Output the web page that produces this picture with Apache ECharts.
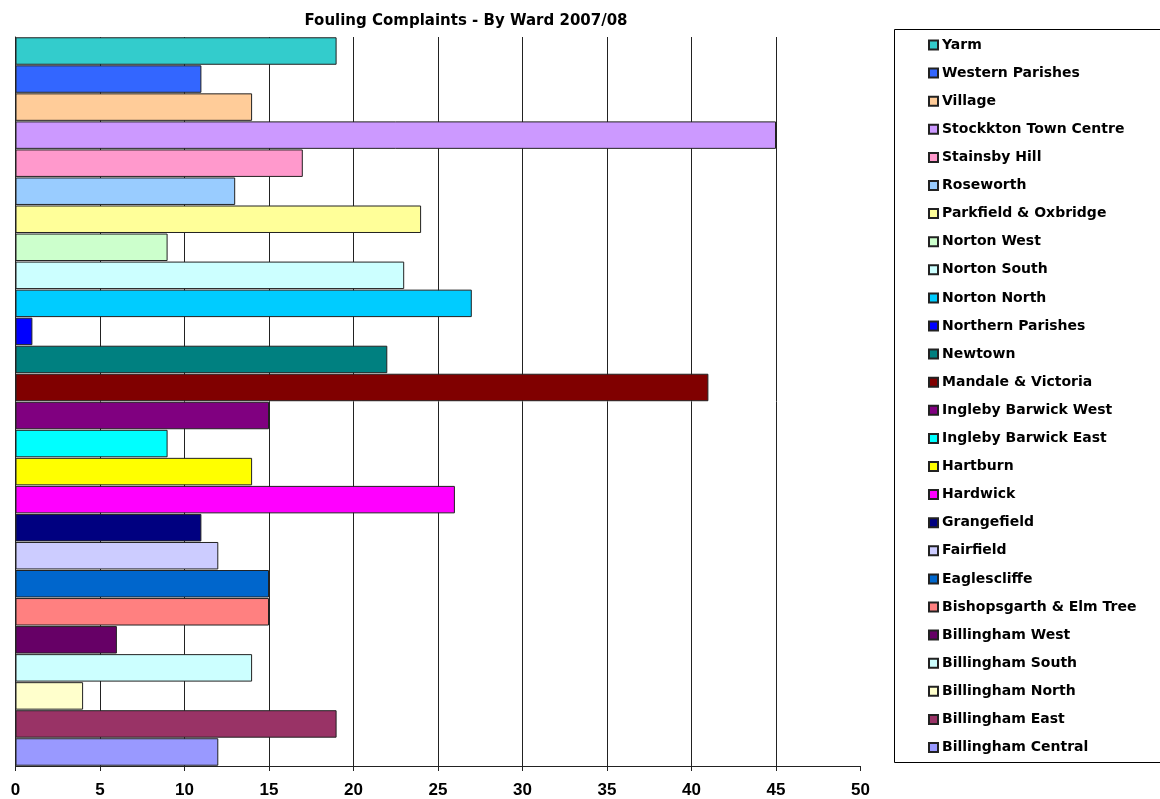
<!DOCTYPE html>
<html>
<head>
<meta charset="utf-8">
<script src="https://cdn.jsdelivr.net/npm/echarts@6/dist/echarts.min.js"></script>
<style>
  html, body { margin: 0; padding: 0; background: #fff; }
  #main { width: 1160px; height: 799px; }
</style>
</head>
<body>
<div id="main"></div>
<script>
// wards, top to bottom as drawn
var wards = [
  "Yarm", "Western Parishes", "Village", "Stockkton Town Centre", "Stainsby Hill",
  "Roseworth", "Parkfield & Oxbridge", "Norton West", "Norton South", "Norton North",
  "Northern Parishes", "Newtown", "Mandale & Victoria", "Ingleby Barwick West",
  "Ingleby Barwick East", "Hartburn", "Hardwick", "Grangefield", "Fairfield",
  "Eaglescliffe", "Bishopsgarth & Elm Tree", "Billingham West", "Billingham South",
  "Billingham North", "Billingham East", "Billingham Central"
];
var complaints = [19, 11, 14, 45, 17, 13, 24, 9, 23, 27, 1, 22, 41, 15, 9, 14, 26, 11, 12, 15, 15, 6, 14, 4, 19, 12];
var colours = [
  "#33CCCC", "#3366FF", "#FFCC99", "#CC99FF", "#FF99CC", "#99CCFF", "#FFFF99", "#CCFFCC",
  "#CCFFFF", "#00CCFF", "#0000FF", "#008080", "#800000", "#800080", "#00FFFF", "#FFFF00",
  "#FF00FF", "#000080", "#CCCCFF", "#0066CC", "#FF8080", "#660066", "#CCFFFF", "#FFFFCC",
  "#993366", "#9999FF"
];
var xTicks = [0, 5, 10, 15, 20, 25, 30, 35, 40, 45, 50];

var chart = echarts.init(document.getElementById("main"));

// one series per ward so that every ward gets its own legend entry
var series = [];
wards.forEach(function (w, i) {
  var d = wards.map(function (x, j) { return j === i ? complaints[i] : "-"; });
  series.push({
    name: w,
    type: "bar",
    stack: "all",
    barCategoryGap: "2%",
    data: d,
    itemStyle: { color: colours[i], borderColor: "#222", borderWidth: 1 }
  });
});

// last split line (at 50) is not drawn in the original
var gridColours = xTicks.map(function (t, i) { return i === xTicks.length - 1 ? "rgba(0,0,0,0)" : "#222"; });

chart.setOption({
  animation: false,
  title: {
    text: "Fouling Complaints - By Ward 2007/08",
    left: 461,
    textAlign: "center",
    top: 9,
    textStyle: { fontFamily: "DejaVu Sans", fontWeight: "bold", fontSize: 15, color: "#000" }
  },
  graphic: [{
    type: "rect",
    shape: { x: 894.5, y: 29.5, width: 300, height: 733 },
    style: { fill: "none", stroke: "#000", lineWidth: 1 },
    silent: true
  }],
  legend: {
    orient: "vertical",
    left: 923,
    top: 31,
    data: wards,
    icon: "rect",
    itemWidth: 9,
    itemHeight: 9,
    itemGap: 10.1,
    selectedMode: false,
    textStyle: { fontFamily: "DejaVu Sans", fontWeight: "bold", fontSize: 14, lineHeight: 18, color: "#000", padding: [0, 0, 0, -1] }
  },
  grid: { left: 15.5, right: 299.5, top: 37, bottom: 33, containLabel: false },
  xAxis: {
    type: "value",
    min: 0,
    max: 50,
    interval: 5,
    axisLine: { show: true, lineStyle: { color: "#222", width: 1 } },
    axisTick: { show: true, length: 5, lineStyle: { color: "#222" } },
    axisLabel: {
      margin: 16,
      fontFamily: "Liberation Sans Narrow, Liberation Sans",
      fontWeight: "bold",
      fontSize: 17,
      color: "#000"
    },
    splitLine: { show: true, lineStyle: { color: gridColours, width: 1 } }
  },
  yAxis: {
    type: "category",
    data: wards,
    inverse: true,
    axisLine: { show: true, lineStyle: { color: "#222", width: 1 } },
    axisTick: { show: false },
    axisLabel: { show: false },
    splitLine: { show: false }
  },
  series: series
});
</script>
</body>
</html>
